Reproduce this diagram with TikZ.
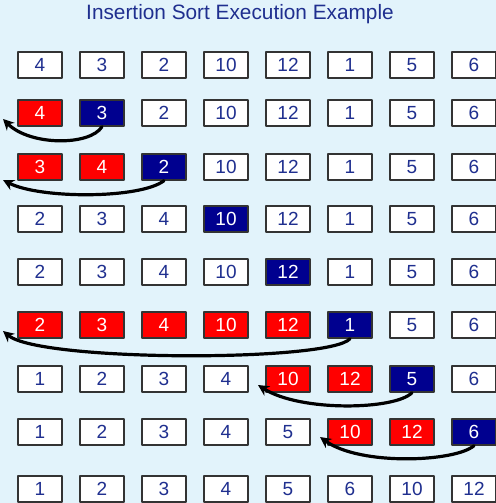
\documentclass[tikz,border=0pt]{standalone}
\usepackage{fontspec}
\setmainfont{Liberation Sans}
\usetikzlibrary{arrows.meta}
\definecolor{bgblue}{HTML}{E2F3FB}
\definecolor{numblue}{HTML}{1F2F8F}
\definecolor{keyblue}{HTML}{00008F}
\definecolor{movered}{HTML}{FF0000}
\definecolor{edgegray}{HTML}{333333}
\tikzset{
  cell/.style={draw=edgegray, line width=1.4bp, minimum width=44bp, minimum height=26bp,
    inner sep=0pt, font=\fontsize{19bp}{20bp}\selectfont},
  cellw/.style={cell, fill=white, text=numblue},
  cellr/.style={cell, fill=movered, text=white},
  cellb/.style={cell, fill=keyblue, text=white},
  moveline/.style={->, line width=3.2bp, black}
}
\begin{document}
\begin{tikzpicture}[x=1bp, y=-1bp, line join=round, line cap=round, >={Stealth[length=11bp,width=11bp]}]
  \def\dx{62} % column step
  \useasboundingbox[fill=bgblue] (0,0) rectangle (496,503);
  \node[text=numblue, font=\fontsize{20.8bp}{24bp}\selectfont, anchor=base] (title) at (240,20) {Insertion Sort Execution Example};
  % w = sorted/untouched, r = shifted right, b = key being inserted
  \foreach \r/\yy/\row in {
    1/65/{4/w,3/w,2/w,10/w,12/w,1/w,5/w,6/w},
    2/113/{4/r,3/b,2/w,10/w,12/w,1/w,5/w,6/w},
    3/167/{3/r,4/r,2/b,10/w,12/w,1/w,5/w,6/w},
    4/219/{2/w,3/w,4/w,10/b,12/w,1/w,5/w,6/w},
    5/272/{2/w,3/w,4/w,10/w,12/b,1/w,5/w,6/w},
    6/325/{2/r,3/r,4/r,10/r,12/r,1/b,5/w,6/w},
    7/379/{1/w,2/w,3/w,4/w,10/r,12/r,5/b,6/w},
    8/432/{1/w,2/w,3/w,4/w,5/w,10/r,12/r,6/b},
    9/489/{1/w,2/w,3/w,4/w,5/w,6/w,10/w,12/w}}{
    \foreach \v/\s [count=\col] in \row
      \node[cell\s] (c\r-\col) at ({40+\dx*(\col-1)},\yy) {\v};
  }
  % where each key lands
  \coordinate (tip2) at (3,119);
  \coordinate (tip3) at (3,180);
  \coordinate (tip6) at (3,331);
  \coordinate (tip7) at (258,385);
  \coordinate (tip8) at (320,437);
  \draw[moveline] (c2-2.south) .. controls (90,146) and (30,146) .. (tip2);
  \draw[moveline] (c3-3.south) .. controls (140,199) and (40,199) .. (tip3);
  \draw[moveline] (c6-6.south) .. controls (330,362) and (40,362) .. (tip6);
  \draw[moveline] (c7-7.south) .. controls (395,410) and (300,412) .. (tip7);
  \draw[moveline] (c8-8.south) .. controls (455,462) and (360,466) .. (tip8);
\end{tikzpicture}
\end{document}
